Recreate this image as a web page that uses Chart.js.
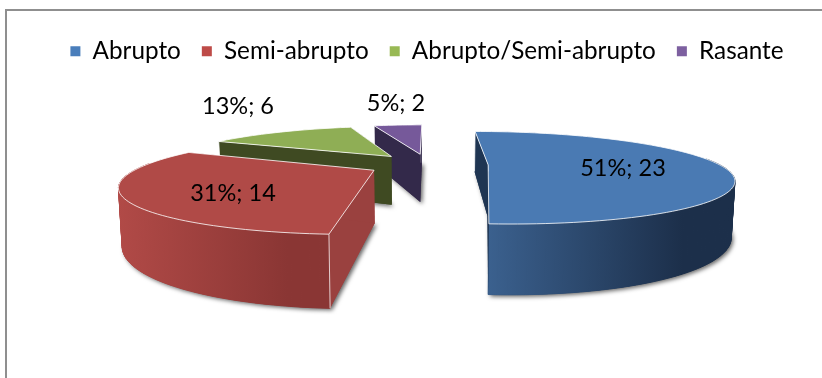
<!DOCTYPE html>
<html>
<head>
<meta charset="utf-8">
<script src="https://cdn.jsdelivr.net/npm/chart.js@4"></script>
<style>
	html, body { margin: 0; background: #fff; overflow: hidden; }
	#frame { position: absolute; left: 5px; top: 9px; width: 817px; height: 369px; border-left: 2px solid #8f8f8f; border-top: 2px solid #8f8f8f; box-sizing: border-box; }
	canvas { position: absolute; left: 0; top: 0; }
</style>
</head>
<body>
<div id="frame"></div>
<canvas id="pieChart" width="822" height="378"></canvas>
<script>
const categories = ["Abrupto", "Semi-abrupto", "Abrupto/Semi-abrupto", "Rasante"];
const counts = [23, 14, 6, 2];
const percents = [51, 31, 13, 5];

const legendColors = ["#4a7ebb", "#be4b48", "#98b954", "#7d60a0"];
const topColors = ["#4a7ab3", "#b04a47", "#8fae55", "#76599a"];
const wallColors = ["#1f3552", "#9a413f", "#3f4a22", "#33294a"];
const rimLeft = ["#3d6493", "#b14a47", "#4a5a28", "#3d3058"];
const rimRight = ["#1c2f4a", "#8a3634", "#3f4a22", "#33294a"];
const labelCenters = [[623, 168], [233, 193], [238, 106], [396, 103]];

// proyeccion del plano de la torta a pantalla
const view = { x0: 428, y0: 164.5, a: 231, b: 42.5, c: 51, k: 0.277, taper: 0.012, explode: 0.26 };

function project(x, y, z) {
	const s = 1 / (1 - view.k * y);
	return [view.x0 + view.a * x * s * (1 - view.taper * z), view.y0 + s * (view.b * y + view.c * z)];
}

function tracePath(ctx, pts) {
	ctx.beginPath();
	pts.forEach((p, i) => i ? ctx.lineTo(p[0], p[1]) : ctx.moveTo(p[0], p[1]));
	ctx.closePath();
}

function sliceGeometry(arc) {
	const start = arc.startAngle + Math.PI / 2;
	const end = arc.endAngle + Math.PI / 2;
	const mid = (start + end) / 2;
	const cx = Math.sin(mid) * view.explode;
	const cy = -Math.cos(mid) * view.explode;
	const rim = [];
	const steps = Math.ceil((end - start) / 0.03);
	for (let i = 0; i <= steps; i++) {
		const t = start + (end - start) * i / steps;
		rim.push([cx + Math.sin(t), cy - Math.cos(t), -Math.cos(t)]);
	}
	return { cx, cy, rim };
}

const pie3d = {
	id: "pie3d",
	beforeDatasetDraw(chart) {
		const ctx = chart.ctx;
		const arcs = chart.getDatasetMeta(0).data;
		// de atras hacia adelante
		[3, 2, 1, 0].forEach(i => {
			const g = sliceGeometry(arcs[i]);
			const top = g.rim.map(p => project(p[0], p[1], 0));
			const bottom = g.rim.map(p => project(p[0], p[1], 1));
			const apexTop = project(g.cx, g.cy, 0);
			const apexBottom = project(g.cx, g.cy, 1);
			const last = top.length - 1;
			const startWall = [apexTop, top[0], bottom[0], apexBottom];
			const endWall = [apexTop, top[last], bottom[last], apexBottom];

			// la base proyecta la sombra
			ctx.save();
			ctx.shadowColor = "rgba(0,0,0,0.6)";
			ctx.shadowBlur = 4;
			ctx.shadowOffsetX = 2;
			ctx.shadowOffsetY = 2;
			ctx.fillStyle = wallColors[i];
			tracePath(ctx, [apexBottom].concat(bottom));
			ctx.fill();
			ctx.restore();

			const xs = bottom.concat(top).map(p => p[0]);
			const grad = ctx.createLinearGradient(Math.min(...xs), 0, Math.max(...xs), 0);
			grad.addColorStop(0, rimLeft[i]);
			grad.addColorStop(0.8, rimRight[i]);
			grad.addColorStop(1, rimRight[i]);
			ctx.fillStyle = grad;
			ctx.strokeStyle = grad;
			ctx.lineWidth = 1;
			for (let j = 0; j < last; j++) {
				if (g.rim[j][2] < -0.15) continue; // parte de atras, no se ve
				tracePath(ctx, [top[j], top[j + 1], bottom[j + 1], bottom[j]]);
				ctx.fill();
				ctx.stroke();
			}

			ctx.fillStyle = wallColors[i];
			tracePath(ctx, startWall); ctx.fill();
			tracePath(ctx, endWall); ctx.fill();

			// aristas claras
			ctx.strokeStyle = "rgba(255,255,255,0.75)";
			ctx.beginPath();
			ctx.moveTo(top[0][0], top[0][1]);
			ctx.lineTo(bottom[0][0], bottom[0][1]);
			ctx.stroke();

			const face = [apexTop].concat(top);
			ctx.fillStyle = topColors[i];
			tracePath(ctx, face); ctx.fill();
			ctx.strokeStyle = "rgba(255,255,255,0.8)";
			tracePath(ctx, face); ctx.stroke();
		});
		return false;
	},
	afterDatasetsDraw(chart) {
		const ctx = chart.ctx;
		ctx.save();
		ctx.fillStyle = "#000";
		ctx.font = "23.5px Lato";
		ctx.textAlign = "center";
		ctx.textBaseline = "middle";
		counts.forEach((v, i) => {
			ctx.fillText(percents[i] + "%; " + v, labelCenters[i][0], labelCenters[i][1]);
		});
		ctx.restore();
	}
};

new Chart(document.getElementById("pieChart").getContext("2d"), {
	type: "pie",
	data: {
		labels: categories,
		datasets: [{
			data: counts,
			backgroundColor: legendColors,
			borderWidth: 0
		}]
	},
	options: {
		responsive: false,
		animation: false,
		layout: { padding: { left: 32, top: 18 } },
		plugins: {
			tooltip: { enabled: false },
			legend: {
				position: "top",
				labels: {
					boxWidth: 10,
					boxHeight: 10,
					padding: 21,
					color: "#000",
					font: { family: "Lato", size: 24.3 }
				}
			}
		}
	},
	plugins: [pie3d]
});
</script>
</body>
</html>
